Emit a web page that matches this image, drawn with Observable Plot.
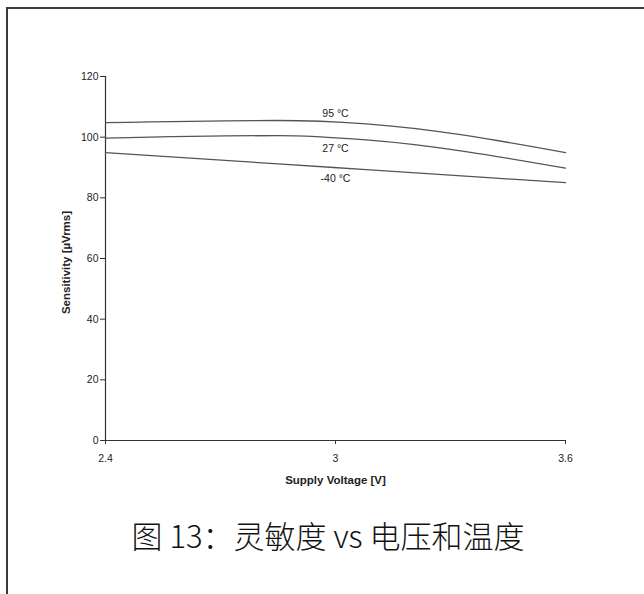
<!DOCTYPE html>
<html>
<head>
<meta charset="utf-8">
<script src="https://cdn.jsdelivr.net/npm/d3@7"></script>
<script src="https://cdn.jsdelivr.net/npm/@observablehq/plot@0.6"></script>
<style>
  html, body { margin: 0; padding: 0; background: #fff; width: 644px; height: 594px; overflow: hidden; }
  #frame { position: absolute; left: 6px; top: 7px; width: 700px; height: 700px;
           border-left: 2px solid #3a3a3a; border-top: 2px solid #3a3a3a; box-sizing: border-box; }
  #chart { position: absolute; left: 0; top: 0; }
  #caption { position: absolute; left: 0; width: 656px; top: 512px; text-align: center;
             font-family: "Noto Sans CJK SC", sans-serif; font-size: 31px; font-weight: 300; color: #111; }
</style>
</head>
<body>
<div id="frame"></div>
<div id="chart"></div>
<div id="caption"></div>
<script>
const voltage = [2.4, 2.85, 3.08, 3.6];
const sens95 = [104.8, 105.5, 104.4, 94.9];
const sens27 = [99.7, 100.5, 99.1, 89.8];
const sensM40 = [94.9, 91.2, 89.3, 85.0];
const seriesNames = ["95 °C", "27 °C", "-40 °C"];
const labelVoltage = [3.0, 3.0, 3.0];
const labelSens = [107.8, 96.2, 86.3];
const xTicks = [2.4, 3, 3.6];
const yTicks = [0, 20, 40, 60, 80, 100, 120];
const xLabel = "Supply Voltage [V]";
const yLabel = "Sensitivity [µVrms]";
const captionText = "图 13：灵敏度 vs 电压和温度";

const seriesValues = [sens95, sens27, sensM40];
const rows = seriesValues.flatMap((vals, i) =>
  voltage.map((v, j) => ({series: seriesNames[i], v, s: vals[j]})));
const labels = seriesNames.map((n, i) => ({n, v: labelVoltage[i], s: labelSens[i]}));

const font = "Liberation Sans, Arial, sans-serif";
const chart = Plot.plot({
  width: 644,
  height: 500,
  marginLeft: 105,
  marginRight: 79,
  marginTop: 76,
  marginBottom: 60,
  style: {fontFamily: font, fontSize: "10px", color: "#222", background: "transparent"},
  x: {domain: [2.4, 3.6]},
  y: {domain: [0, 120]},
  marks: [
    Plot.axisX({ticks: xTicks, tickFormat: d => String(d), tickSize: 4, tickPadding: 10, label: null, stroke: "#333", fontSize: 10.5}),
    Plot.axisY({ticks: yTicks, tickSize: 5, tickPadding: 2, label: null, stroke: "#333", fontSize: 10.5}),
    Plot.ruleX([2.4], {stroke: "#333", strokeWidth: 1.2}),
    Plot.ruleY([0], {stroke: "#333", strokeWidth: 1.2}),
    Plot.line(rows, {x: "v", y: "s", z: "series", stroke: "#555", strokeWidth: 1.3, curve: "monotone-x"}),
    Plot.text(labels, {x: "v", y: "s", text: "n", fill: "#222", fontSize: 10.5}),
    Plot.text([xLabel], {frameAnchor: "bottom", dy: 43, textAnchor: "middle", text: d => d, fontWeight: "bold", fontSize: 11.5, fill: "#222"}),
    Plot.text([yLabel], {frameAnchor: "left", dx: -39, dy: 4, textAnchor: "middle", rotate: -90, text: d => d, fontWeight: "bold", fontSize: 11.5, fill: "#222"})
  ]
});
document.getElementById("chart").appendChild(chart);
document.getElementById("caption").textContent = captionText;
</script>
</body>
</html>
